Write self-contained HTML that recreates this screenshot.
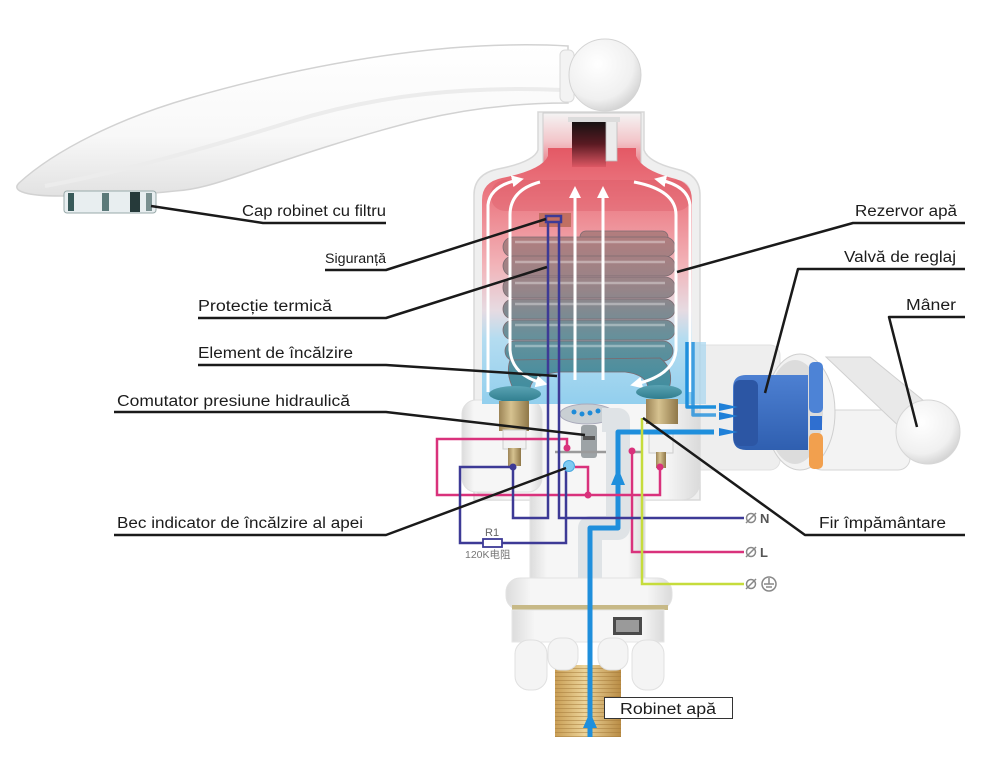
<!DOCTYPE html>
<html><head><meta charset="utf-8"><style>
html,body{margin:0;padding:0;background:#fff;}
svg{display:block;}
.lb{font-family:"Liberation Sans",sans-serif;font-size:15.5px;fill:#1c1c1c;}
</style></head><body>
<svg width="1000" height="768" viewBox="0 0 1000 768" xmlns="http://www.w3.org/2000/svg">
<defs>
<linearGradient id="spout" x1="0" y1="0" x2="0" y2="1">
<stop offset="0" stop-color="#ffffff"/><stop offset="0.6" stop-color="#f8f8f8"/><stop offset="1" stop-color="#e2e2e2"/></linearGradient>
<radialGradient id="ball" cx="0.4" cy="0.35" r="0.7">
<stop offset="0" stop-color="#ffffff"/><stop offset="0.7" stop-color="#f0f0f0"/><stop offset="1" stop-color="#cfcfcf"/></radialGradient>
<linearGradient id="neck" x1="0" y1="113" x2="0" y2="175" gradientUnits="userSpaceOnUse">
<stop offset="0" stop-color="#f4f4f4"/><stop offset="0.45" stop-color="#f3c6ca"/><stop offset="1" stop-color="#e55f6b"/></linearGradient>
<linearGradient id="tube" x1="0" y1="120" x2="0" y2="168" gradientUnits="userSpaceOnUse">
<stop offset="0" stop-color="#111"/><stop offset="0.5" stop-color="#5a1a22"/><stop offset="1" stop-color="#e25a66"/></linearGradient>
<linearGradient id="tank" x1="0" y1="150" x2="0" y2="405" gradientUnits="userSpaceOnUse">
<stop offset="0" stop-color="#e45a66"/><stop offset="0.2" stop-color="#ec7d86"/><stop offset="0.45" stop-color="#f2b3b8"/><stop offset="0.63" stop-color="#e6dbe2"/><stop offset="0.74" stop-color="#b4dcf0"/><stop offset="1" stop-color="#92cfee"/></linearGradient>
<linearGradient id="coil" x1="0" y1="228" x2="0" y2="385" gradientUnits="userSpaceOnUse">
<stop offset="0" stop-color="#b47c7d"/><stop offset="0.4" stop-color="#958589"/><stop offset="0.7" stop-color="#66909b"/><stop offset="1" stop-color="#438e9f"/></linearGradient>
<linearGradient id="body" x1="0" y1="0" x2="1" y2="0">
<stop offset="0" stop-color="#dcdcdc"/><stop offset="0.15" stop-color="#f6f6f6"/><stop offset="0.85" stop-color="#f6f6f6"/><stop offset="1" stop-color="#dadada"/></linearGradient>
<linearGradient id="brass" x1="0" y1="0" x2="1" y2="0">
<stop offset="0" stop-color="#9c8456"/><stop offset="0.4" stop-color="#d6c290"/><stop offset="1" stop-color="#8f7748"/></linearGradient>
<linearGradient id="teal" x1="0" y1="0" x2="0" y2="1">
<stop offset="0" stop-color="#5aa3b3"/><stop offset="1" stop-color="#2f7d8e"/></linearGradient>
<linearGradient id="pipe" x1="0" y1="0" x2="1" y2="0">
<stop offset="0" stop-color="#c99e55"/><stop offset="0.45" stop-color="#ecd49a"/><stop offset="1" stop-color="#b98c45"/></linearGradient>
<pattern id="thread" width="4" height="4" patternUnits="userSpaceOnUse">
<rect width="4" height="4" fill="none"/><line x1="0" y1="0.5" x2="4" y2="0.5" stroke="#a37a3a" stroke-width="1" opacity="0.5"/></pattern>
<linearGradient id="vbody" x1="0" y1="0" x2="0" y2="1">
<stop offset="0" stop-color="#4d80d2"/><stop offset="1" stop-color="#2f5fb0"/></linearGradient>
<marker id="wa" viewBox="0 0 10 10" refX="5" refY="5" markerWidth="4" markerHeight="4" orient="auto">
<path d="M0,0 L10,5 L0,10 Z" fill="#fff"/></marker>
</defs>

<!-- spout -->
<path d="M19,183 C55,150 120,118 190,98 C270,75 360,56 450,48 C500,44 535,44 568,46 L568,103 C520,103 470,108 420,120 C360,135 300,155 250,172 C215,184 195,190 175,191 C140,195 100,196 60,196 C30,196 10,192 19,183 Z" fill="url(#spout)" stroke="#d2d2d2" stroke-width="1.5"/>
<path d="M45,186 C120,172 200,150 290,122 C380,94 470,86 562,90" fill="none" stroke="#ececec" stroke-width="4"/>
<!-- joint -->
<rect x="560" y="50" width="14" height="52" rx="5" fill="#f3f3f3" stroke="#dadada"/>
<circle cx="605" cy="75" r="36" fill="url(#ball)" stroke="#d4d4d4"/>
<!-- aerator -->
<rect x="64" y="191" width="92" height="22" rx="3" fill="#e8eef0" stroke="#9aa" stroke-width="1"/>
<rect x="68" y="193" width="6" height="18" fill="#385a5a"/>
<rect x="102" y="193" width="7" height="18" fill="#5c7a7a"/>
<rect x="130" y="192" width="10" height="20" fill="#263a3a"/>
<rect x="146" y="193" width="6" height="18" fill="#7a9090"/>

<!-- connector behind valve -->
<rect x="690" y="345" width="90" height="125" rx="10" fill="#eeeeee" stroke="#e0e0e0"/>

<!-- tank outer -->
<path d="M474,500 L474,195 Q474,174 498,169 Q534,162 538,150 L538,112 L644,112 L644,150 Q648,162 676,169 Q700,174 700,195 L700,500 Z" fill="#efefef" stroke="#d8d8d8" stroke-width="1.5"/>
<!-- lower body -->
<rect x="474" y="400" width="226" height="100" rx="18" fill="url(#body)" stroke="#dcdcdc"/>
<rect x="462" y="400" width="80" height="92" rx="14" fill="url(#body)" stroke="#e0e0e0"/>
<!-- neck -->
<rect x="543" y="113" width="98" height="55" fill="url(#neck)" stroke="#cdcdcd"/>
<!-- tank interior -->
<path d="M482,404 L482,200 Q482,182 502,178 Q542,170 548,156 L548,148 L636,148 L636,156 Q642,170 672,178 Q692,182 692,200 L692,404 Z" fill="url(#tank)"/>
<rect x="692" y="342" width="14" height="62" fill="#a6d6ef" opacity="0.7"/>
<rect x="491" y="180" width="200" height="31" rx="14" fill="#d8505c" opacity="0.3"/>
<rect x="572" y="121" width="34" height="46" fill="url(#tube)"/>
<rect x="606" y="121" width="11" height="40" fill="#ececec" stroke="#bdbdbd" stroke-width="0.8"/>
<rect x="568" y="117" width="52" height="5" fill="#dcdcdc"/>

<!-- coils -->
<g fill="url(#coil)" stroke="#7b6a70" stroke-width="0.8">
<rect x="580" y="231" width="88" height="13" rx="6"/>
<rect x="503" y="237" width="172" height="20" rx="10"/>
<rect x="503" y="256" width="172" height="20" rx="10"/>
<rect x="503" y="277" width="172" height="21" rx="10"/>
<rect x="503" y="299" width="172" height="20" rx="10"/>
<rect x="503" y="320" width="172" height="20" rx="10"/>
<rect x="505" y="341" width="168" height="20" rx="10"/>
<path d="M510,360 Q505,375 515,392 L530,392 Q528,375 560,372 L625,372 Q650,375 648,392 L668,392 Q676,370 660,358 Z"/>
</g>
<g stroke="#ffffff" stroke-width="2.5" opacity="0.35" fill="none">
<line x1="515" y1="242" x2="665" y2="242"/><line x1="515" y1="262" x2="665" y2="262"/><line x1="515" y1="283" x2="665" y2="283"/><line x1="515" y1="304" x2="665" y2="304"/><line x1="515" y1="325" x2="665" y2="325"/><line x1="515" y1="346" x2="665" y2="346"/>
</g>
<rect x="539" y="213" width="32" height="14" fill="#b86a58" opacity="0.85"/>

<!-- white flow arrows -->
<g stroke="#fff" stroke-width="3" fill="none" marker-end="url(#wa)">
<path d="M488,392 L488,205 Q490,186 518,180"/>
<path d="M540,182 Q510,190 510,215 L510,350 Q512,375 542,383"/>
<path d="M575,380 L575,192"/>
<path d="M603,380 L603,192"/>
<path d="M690,392 L690,205 Q688,186 660,180"/>
<path d="M634,182 Q676,190 676,215 L676,350 Q674,375 636,384"/>
</g>

<!-- electrodes -->
<ellipse cx="515" cy="394" rx="26" ry="8" fill="url(#teal)"/>
<rect x="499" y="401" width="30" height="30" fill="url(#brass)"/>
<rect x="503" y="430" width="23" height="19" fill="#f2f2f2" stroke="#ccc"/>
<rect x="508" y="448" width="13" height="18" fill="url(#brass)"/>
<ellipse cx="659" cy="392" rx="23" ry="7" fill="url(#teal)"/>
<rect x="646" y="399" width="32" height="25" fill="url(#brass)"/>
<rect x="649" y="433" width="24" height="20" fill="#f2f2f2" stroke="#ccc"/>
<rect x="656" y="452" width="10" height="16" fill="url(#brass)"/>

<!-- pressure switch -->
<ellipse cx="587" cy="414" rx="27" ry="10" fill="#c9cfd3" stroke="#aab"/>
<g fill="#1e8bd8"><circle cx="574" cy="412" r="2.5"/><circle cx="582" cy="414" r="2.5"/><circle cx="590" cy="413" r="2.5"/><circle cx="598" cy="411" r="2.5"/><circle cx="605" cy="413" r="2.5"/></g>
<rect x="581" y="425" width="16" height="33" rx="3" fill="#9da3a6"/>
<rect x="583" y="436" width="12" height="4" fill="#555"/>
<line x1="555" y1="452" x2="642" y2="452" stroke="#9a9a9a" stroke-width="2.5"/>

<!-- lower neck and base -->
<rect x="530" y="495" width="115" height="95" fill="url(#body)" stroke="#e2e2e2"/>
<path d="M602,420 L618,420 L618,528 L590,528 L590,585" fill="none" stroke="#dfe3e6" stroke-width="24" stroke-linejoin="round"/>
<rect x="506" y="578" width="166" height="32" rx="14" fill="url(#body)" stroke="#e2e2e2"/>
<rect x="512" y="605" width="156" height="5" fill="#c7b987"/>
<rect x="512" y="610" width="152" height="32" fill="url(#body)" stroke="#e6e6e6"/>
<rect x="613" y="617" width="29" height="18" fill="#4a4a4a"/>
<rect x="616" y="620" width="23" height="12" fill="#9a9a9a"/>
<rect x="555" y="665" width="66" height="72" fill="url(#pipe)"/>
<rect x="555" y="665" width="66" height="72" fill="url(#thread)"/>
<g fill="#f4f4f4" stroke="#e0e0e0">
<rect x="515" y="640" width="32" height="50" rx="14"/>
<rect x="548" y="638" width="30" height="32" rx="12"/>
<rect x="598" y="638" width="30" height="32" rx="12"/>
<rect x="632" y="640" width="32" height="50" rx="14"/>
</g>

<!-- blue water lines -->
<g stroke="#1f8fdc" fill="none" stroke-linejoin="round">
<path d="M590,737 L590,528 L618,528 L618,432 L714,432" stroke-width="5"/>
<path d="M687,342 L687,407 L716,407" stroke-width="3.5"/>
<path d="M693,342 L693,415 L716,415" stroke-width="3.5" opacity="0.8"/>
</g>
<path d="M583,728 L590,712 L597,728 Z" fill="#1f8fdc"/>
<path d="M611,485 L618,468 L625,485 Z" fill="#1f8fdc"/>

<!-- wires pink -->
<g fill="none" stroke="#d9327c" stroke-width="2.5" stroke-linejoin="miter">
<path d="M567,448 L567,439 L437,439 L437,495 L660,495 L660,467"/>
<path d="M575,467 L588,467 L588,495"/>
<path d="M632,451 L632,552 L744,552"/>
</g>
<g fill="#d9327c"><circle cx="567" cy="448" r="3.5"/><circle cx="588" cy="495" r="3.5"/><circle cx="632" cy="451" r="3.5"/><circle cx="660" cy="467" r="3.5"/></g>
<!-- wires navy -->
<g fill="none" stroke="#3d3a96" stroke-width="2.5">
<path d="M548,222 L548,518 L513,518 L513,467"/>
<path d="M559,222 L559,518 L744,518"/>
<path d="M513,467 L460,467 L460,543 L566,543 L566,467"/>
<rect x="546" y="216" width="15" height="6"/>
</g>
<circle cx="513" cy="467" r="3.5" fill="#3d3a96"/>
<rect x="483" y="539" width="19" height="8" fill="#fff" stroke="#3d3a96" stroke-width="1.8"/>
<text x="485" y="536" font-family="Liberation Sans,sans-serif" font-size="11" fill="#666">R1</text>
<text x="465" y="558" font-family="Liberation Sans,'Noto Sans CJK SC',sans-serif" font-size="10.5" fill="#777">120K电阻</text>
<circle cx="569" cy="466" r="5.5" fill="#7ecbf2" stroke="#4aa8e0"/>
<!-- wire yellow -->
<path d="M642,418 L642,584 L744,584" fill="none" stroke="#c6dc3c" stroke-width="2.5"/>

<!-- terminals -->
<g stroke="#888" stroke-width="1.5" fill="none">
<circle cx="751" cy="518" r="4.5"/><line x1="746" y1="523" x2="756" y2="513"/>
<circle cx="751" cy="552" r="4.5"/><line x1="746" y1="557" x2="756" y2="547"/>
<circle cx="751" cy="584" r="4.5"/><line x1="746" y1="589" x2="756" y2="579"/>
<circle cx="769" cy="584" r="7"/><line x1="769" y1="578" x2="769" y2="584"/><line x1="764" y1="584" x2="774" y2="584"/><line x1="766" y1="587" x2="772" y2="587"/>
</g>
<text x="760" y="523" font-family="Liberation Sans,sans-serif" font-size="13" font-weight="bold" fill="#555">N</text>
<text x="760" y="557" font-family="Liberation Sans,sans-serif" font-size="13" font-weight="bold" fill="#555">L</text>

<!-- valve -->
<rect x="810" y="410" width="100" height="60" rx="12" fill="#f3f3f3" stroke="#d6d6d6"/>
<polygon points="826,357 870,357 935,410 905,432" fill="#e9e9e9" stroke="#d0d0d0"/>
<ellipse cx="800" cy="412" rx="35" ry="58" fill="#f2f2f2" stroke="#cfcfcf"/>
<ellipse cx="795" cy="412" rx="28" ry="52" fill="#dcdcdc"/>
<rect x="809" y="362" width="14" height="51" rx="5" fill="#4d83d6"/>
<rect x="809" y="433" width="14" height="36" rx="5" fill="#f2a04e"/>
<rect x="810" y="416" width="12" height="14" fill="#2f6fd0"/>
<path d="M746,375 L808,375 L808,450 L746,450 Q733,450 733,437 L733,388 Q733,375 746,375 Z" fill="url(#vbody)"/>
<rect x="734" y="380" width="24" height="66" rx="6" fill="#2c56a4"/>
<g fill="#1f80d8">
<path d="M719,403 L738,407 L719,411 Z"/><path d="M719,412 L738,416 L719,420 Z"/><path d="M719,428 L738,432 L719,436 Z"/>
</g>
<circle cx="928" cy="432" r="32" fill="url(#ball)" stroke="#d6d6d6"/>

<!-- leader lines -->
<g fill="none" stroke="#1a1a1a" stroke-width="2.5" stroke-linejoin="round">
<path d="M151,206 L263,223 L386,223"/>
<path d="M325,270 L386,270 L546,219"/>
<path d="M198,318 L386,318 L547,267"/>
<path d="M198,365 L386,365 L557,376"/>
<path d="M114,412 L386,412 L585,435"/>
<path d="M114,535 L386,535 L566,468"/>
<path d="M965,223 L853,223 L677,272"/>
<path d="M965,269 L798,269 L765,393"/>
<path d="M965,317 L889,317 L917,427"/>
<path d="M965,535 L805,535 L643,418"/>
</g>

<!-- labels -->
<text class="lb" x="242" y="216" textLength="144" lengthAdjust="spacingAndGlyphs">Cap robinet cu filtru</text>
<text class="lb" x="325" y="263" style="font-size:13.5px" textLength="61" lengthAdjust="spacingAndGlyphs">Siguranță</text>
<text class="lb" x="198" y="311" textLength="134" lengthAdjust="spacingAndGlyphs">Protecție termică</text>
<text class="lb" x="198" y="358" textLength="155" lengthAdjust="spacingAndGlyphs">Element de încălzire</text>
<text class="lb" x="117" y="406" textLength="233" lengthAdjust="spacingAndGlyphs">Comutator presiune hidraulică</text>
<text class="lb" x="117" y="528" textLength="246" lengthAdjust="spacingAndGlyphs">Bec indicator de încălzire al apei</text>
<text class="lb" x="855" y="216" textLength="102" lengthAdjust="spacingAndGlyphs">Rezervor apă</text>
<text class="lb" x="844" y="262" textLength="112" lengthAdjust="spacingAndGlyphs">Valvă de reglaj</text>
<text class="lb" x="906" y="310" textLength="50" lengthAdjust="spacingAndGlyphs">Mâner</text>
<text class="lb" x="819" y="528" textLength="127" lengthAdjust="spacingAndGlyphs">Fir împământare</text>

<rect x="604.5" y="697.5" width="128" height="21" fill="#fff" stroke="#333" stroke-width="1"/>
<text class="lb" x="620" y="714" textLength="96" lengthAdjust="spacingAndGlyphs">Robinet apă</text>
</svg>
</body></html>
